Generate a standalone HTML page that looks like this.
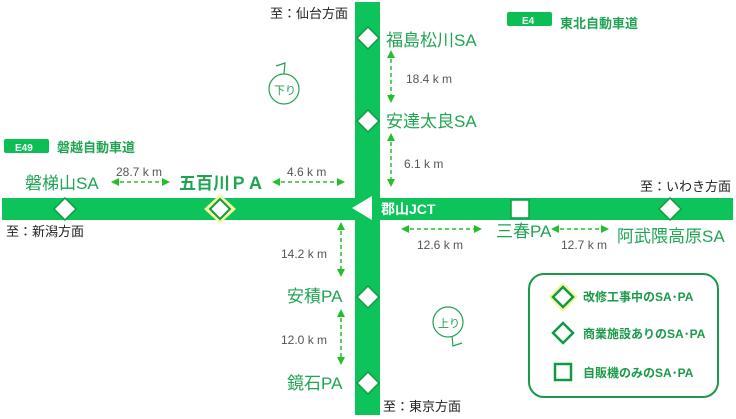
<!DOCTYPE html>
<html><head><meta charset="utf-8"><style>
html,body{margin:0;padding:0;background:#fff;}
svg{display:block;}
text{font-family:"Liberation Sans","Noto Sans CJK JP",sans-serif;}
.g{fill:#1fa552;font-size:17px;}
.k{fill:#555;font-size:12px;}
.b{fill:#222;font-size:13px;}
.l{fill:#1a9a48;font-size:12px;font-weight:bold;}
</style></head><body>
<svg width="736" height="419" viewBox="0 0 736 419" xmlns="http://www.w3.org/2000/svg">
<defs>
<marker id="a" markerWidth="8" markerHeight="8" refX="6" refY="4" orient="auto-start-reverse" markerUnits="userSpaceOnUse"><path d="M0,0 L8,4 L0,8 Z" fill="#22c02a"/></marker>
</defs>
<rect x="355" y="2" width="25" height="413" fill="#0cc45a"/>
<rect x="2" y="198" width="731" height="22" fill="#0cc45a"/>
<g fill="#fff" stroke="#119a44" stroke-width="1.5">
<path d="M368,27 l11,11 l-11,11 l-11,-11z"/>
<path d="M368,110 l11,11 l-11,11 l-11,-11z"/>
<path d="M65,198 l11,11 l-11,11 l-11,-11z"/>
<path d="M670,198 l11,11 l-11,11 l-11,-11z"/>
<path d="M368,286 l11,11 l-11,11 l-11,-11z"/>
<path d="M368,372 l11,11 l-11,11 l-11,-11z"/>
</g>
<path d="M220,197 l13,12 l-13,12 l-13,-12z" fill="none" stroke="#f4f79a" stroke-width="4"/>
<path d="M220,199 l10,10 l-10,10 l-10,-10z" fill="#fff" stroke="#119a44" stroke-width="2"/>
<rect x="511" y="200" width="18" height="18" fill="#fff" stroke="#119a44" stroke-width="1.5"/>
<path d="M352,208 L372,196 L372,220 Z" fill="#fff"/>
<text x="381" y="214" fill="#fff" font-size="14" font-weight="bold">郡山JCT</text>
<g stroke="#22c02a" stroke-width="1.5" stroke-dasharray="4,3" marker-start="url(#a)" marker-end="url(#a)">
<line x1="391" y1="52" x2="391" y2="101"/>
<line x1="391" y1="135" x2="391" y2="185"/>
<line x1="113" y1="182" x2="168" y2="182"/>
<line x1="274" y1="182" x2="343" y2="182"/>
<line x1="341" y1="224" x2="341" y2="275"/>
<line x1="341" y1="311" x2="341" y2="363"/>
<line x1="403" y1="229" x2="480" y2="229"/>
<line x1="553" y1="229" x2="607" y2="229"/>
</g>
<text x="270" y="18" class="b">至：仙台方面</text>
<text x="386" y="46" class="g">福島松川SA</text>
<text x="406" y="83" class="k">18.4 k m</text>
<text x="386" y="127" class="g">安達太良SA</text>
<text x="404" y="168" class="k">6.1 k m</text>
<rect x="507" y="12" width="45" height="14" rx="2" fill="#0cbf55"/>
<text x="522" y="24" fill="#fff" font-size="10" font-weight="bold">E4</text>
<text x="560" y="28" fill="#1fa552" font-size="13" font-weight="bold">東北自動車道</text>
<rect x="4" y="139" width="45" height="14" rx="2" fill="#0cbf55"/>
<text x="15" y="151" fill="#fff" font-size="10" font-weight="bold">E49</text>
<text x="57" y="152" fill="#1fa552" font-size="13" font-weight="bold">磐越自動車道</text>
<text x="116" y="176" class="k">28.7 k m</text>
<text x="287" y="176" class="k">4.6 k m</text>
<text x="25" y="189" class="g">磐梯山SA</text>
<text x="179" y="189" class="g" font-weight="bold">五百川ＰＡ</text>
<text x="6" y="236" class="b">至：新潟方面</text>
<text x="640" y="191" class="b">至：いわき方面</text>
<text x="417" y="249" class="k">12.6 k m</text>
<text x="496" y="237" class="g" font-size="15">三春PA</text>
<text x="561" y="249" class="k">12.7 k m</text>
<text x="617" y="242" class="g">阿武隈高原SA</text>
<text x="281" y="258" class="k">14.2 k m</text>
<text x="287" y="302" class="g">安積PA</text>
<text x="281" y="344" class="k">12.0 k m</text>
<text x="287" y="389" class="g">鏡石PA</text>
<text x="383" y="411" class="b">至：東京方面</text>
<circle cx="284" cy="89" r="15" fill="none" stroke="#22a050" stroke-width="1.2"/>
<path d="M276,66 L285,63 L284,74" fill="none" stroke="#22a050" stroke-width="1.2"/>
<text x="274" y="94" fill="#22a050" font-size="11">下り</text>
<circle cx="448" cy="322" r="15" fill="none" stroke="#22a050" stroke-width="1.2"/>
<path d="M452,336 L453,346 L462,343" fill="none" stroke="#22a050" stroke-width="1.2"/>
<text x="438" y="327" fill="#22a050" font-size="11">上り</text>
<rect x="529" y="274" width="189" height="123" rx="15" fill="#fff" stroke="#1a9a48" stroke-width="2"/>
<path d="M563,285 l12,12 l-12,12 l-12,-12z" fill="none" stroke="#f4f79a" stroke-width="4"/>
<path d="M563,287 l10,10 l-10,10 l-10,-10z" fill="#fff" stroke="#119a44" stroke-width="2.5"/>
<text x="583" y="301" class="l">改修工事中のSA･PA</text>
<path d="M563,323 l10,10 l-10,10 l-10,-10z" fill="#fff" stroke="#119a44" stroke-width="2.5"/>
<text x="583" y="338" class="l">商業施設ありのSA･PA</text>
<rect x="555" y="364" width="16" height="16" fill="#fff" stroke="#119a44" stroke-width="2.5"/>
<text x="583" y="377" class="l">自販機のみのSA･PA</text>
</svg>
</body></html>
